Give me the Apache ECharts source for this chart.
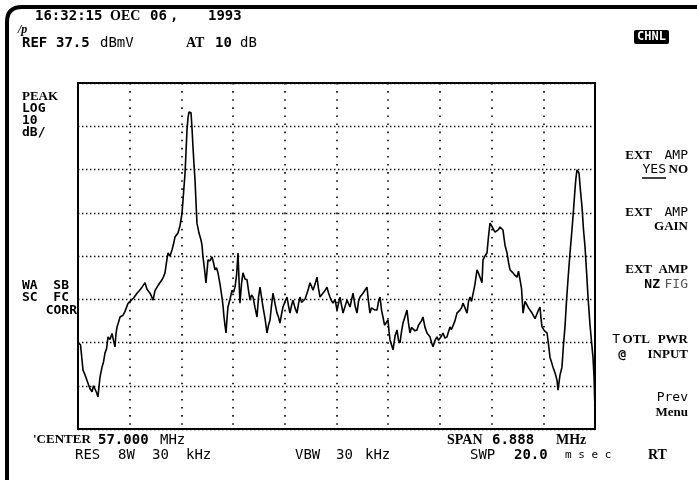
<!DOCTYPE html><html><head><meta charset="utf-8"><script src="https://cdn.jsdelivr.net/npm/echarts@6/dist/echarts.min.js"></script><style>body{margin:0;background:#fff}#c{width:697px;height:482px}</style></head><body><div id="c"></div><script>
// Spectrum analyzer trace: frequency (MHz) and level (dBmV)
var CENTER_MHZ = 57.000;
var SPAN_MHZ = 6.888;
var REF_DBMV = 37.5;
var DB_PER_DIV = 10;
var freqMHz = [53.556,53.589,53.623,53.650,53.689,53.716,53.743,53.762,53.782,53.802,53.822,53.849,53.876,53.896,53.916,53.936,53.956,53.982,54.009,54.029,54.049,54.062,54.076,54.096,54.116,54.136,54.156,54.182,54.222,54.249,54.275,54.302,54.342,54.369,54.409,54.429,54.449,54.475,54.515,54.535,54.555,54.582,54.609,54.642,54.675,54.695,54.715,54.735,54.755,54.782,54.808,54.828,54.848,54.868,54.888,54.915,54.942,54.962,54.982,54.995,55.008,55.022,55.035,55.048,55.062,55.075,55.088,55.102,55.115,55.128,55.141,55.168,55.195,55.208,55.221,55.241,55.261,55.275,55.288,55.315,55.341,55.361,55.381,55.401,55.421,55.448,55.474,55.488,55.501,55.514,55.528,55.541,55.554,55.581,55.608,55.628,55.648,55.668,55.688,55.701,55.714,55.734,55.754,55.781,55.808,55.828,55.848,55.868,55.888,55.915,55.941,55.961,55.981,56.001,56.021,56.048,56.074,56.094,56.114,56.134,56.154,56.181,56.207,56.227,56.247,56.267,56.287,56.314,56.341,56.360,56.380,56.400,56.420,56.447,56.474,56.494,56.514,56.534,56.554,56.580,56.607,56.627,56.647,56.667,56.687,56.714,56.740,56.760,56.780,56.800,56.820,56.847,56.873,56.893,56.913,56.933,56.953,56.980,57.007,57.047,57.087,57.140,57.180,57.220,57.247,57.273,57.293,57.313,57.353,57.406,57.426,57.446,57.466,57.486,57.513,57.540,57.560,57.580,57.600,57.619,57.640,57.659,57.686,57.700,57.713,57.733,57.753,57.780,57.806,57.826,57.846,57.866,57.886,57.913,57.939,57.959,57.979,57.999,58.019,58.045,58.072,58.092,58.112,58.132,58.152,58.179,58.206,58.226,58.246,58.266,58.286,58.312,58.339,58.359,58.379,58.399,58.419,58.445,58.472,58.492,58.512,58.532,58.552,58.578,58.605,58.625,58.645,58.665,58.685,58.712,58.739,58.759,58.779,58.799,58.819,58.845,58.872,58.892,58.912,58.938,58.952,58.978,59.005,59.025,59.045,59.065,59.085,59.112,59.138,59.158,59.178,59.198,59.218,59.245,59.272,59.292,59.312,59.332,59.352,59.378,59.405,59.425,59.445,59.465,59.485,59.512,59.538,59.558,59.578,59.598,59.618,59.645,59.671,59.691,59.711,59.725,59.738,59.771,59.805,59.825,59.844,59.864,59.884,59.911,59.938,59.951,59.978,60.004,60.024,60.044,60.064,60.084,60.110,60.137,60.157,60.177,60.190,60.204,60.218,60.231,60.251,60.271,60.291,60.311,60.331,60.351,60.378,60.404,60.417,60.430,60.444];
var levelDbmV = [-22.6,-23.0,-28.9,-30.0,-31.9,-33.2,-33.9,-32.5,-32.7,-34.0,-35.1,-30.5,-28.2,-27.0,-24.9,-24.0,-21.2,-21.8,-20.4,-22.0,-23.5,-20.5,-18.9,-17.8,-16.6,-16.9,-16.2,-15.3,-13.5,-13.0,-12.7,-12.1,-11.1,-10.6,-9.7,-9.9,-8.7,-10.2,-11.1,-11.8,-12.7,-10.5,-9.7,-8.8,-8.0,-7.3,-6.4,-4.0,-1.8,-2.5,-1.1,0.2,1.9,2.2,2.8,4.5,7.4,12.0,16.7,21.5,26.6,29.5,30.8,31.2,30.6,27.0,22.7,18.5,15.1,10.0,5.1,2.8,1.2,0.0,-2.7,-5.5,-8.7,-6.0,-3.4,-3.6,-2.7,-4.0,-5.7,-5.2,-6.4,-9.0,-12.0,-14.0,-16.6,-18.5,-20.3,-17.0,-14.3,-12.5,-10.4,-10.9,-9.7,-7.0,-1.8,-8.0,-13.4,-9.0,-6.4,-7.8,-8.0,-10.5,-12.7,-11.5,-12.0,-14.5,-16.6,-12.0,-9.7,-12.0,-14.3,-17.0,-20.3,-18.5,-17.3,-14.0,-11.1,-13.5,-15.7,-16.6,-18.0,-16.0,-14.3,-13.0,-12.0,-14.0,-15.7,-14.0,-12.7,-14.5,-15.7,-13.5,-12.0,-13.2,-13.4,-12.5,-11.1,-10.0,-8.7,-9.5,-10.4,-9.0,-7.4,-10.0,-12.0,-11.5,-11.1,-10.5,-9.7,-11.0,-12.0,-12.8,-13.4,-12.5,-15.0,-12.0,-15.7,-12.7,-14.3,-11.1,-14.0,-15.7,-13.0,-12.0,-11.1,-9.7,-13.0,-15.7,-14.5,-14.3,-15.0,-15.0,-13.0,-12.0,-15.0,-16.6,-18.5,-18.9,-17.3,-20.0,-21.9,-23.0,-24.2,-21.0,-19.6,-22.0,-22.6,-20.0,-18.0,-16.5,-15.0,-18.0,-20.3,-19.0,-18.9,-19.8,-19.6,-18.5,-18.0,-17.5,-16.6,-19.0,-20.3,-20.5,-21.2,-22.5,-23.5,-22.0,-21.2,-22.0,-21.9,-21.0,-20.3,-21.5,-21.2,-20.0,-18.9,-19.5,-19.6,-17.5,-15.7,-16.0,-15.0,-14.5,-13.4,-14.5,-15.7,-13.0,-12.0,-13.0,-13.4,-9.0,-5.7,-6.5,-7.4,-8.7,-3.4,-2.5,-1.8,2.0,5.1,4.5,4.2,3.0,2.8,3.6,4.2,3.8,3.5,0.0,-1.8,-4.0,-5.7,-6.0,-6.4,-7.0,-7.4,-6.0,-5.7,-10.0,-15.7,-13.0,-12.7,-14.5,-15.0,-15.5,-15.7,-17.0,-17.3,-15.0,-14.3,-17.0,-18.9,-19.8,-20.3,-23.0,-25.9,-27.0,-28.2,-29.5,-31.2,-33.5,-30.0,-28.2,-23.0,-18.9,-13.0,-8.0,-2.0,3.5,8.0,12.8,15.5,17.4,17.8,16.7,12.5,8.8,3.5,-0.4,-6.0,-12.0,-18.5,-23.5,-25.9,-30.0,-38.1];
var X_DIVS = 10, Y_DIVS = 8;

var trace = freqMHz.map(function(f,i){return [f, levelDbmV[i]];});
var fMin = CENTER_MHZ - SPAN_MHZ/2, fMax = CENTER_MHZ + SPAN_MHZ/2;
var lMax = REF_DBMV, lMin = REF_DBMV - DB_PER_DIV*Y_DIVS;

var MONO = '"DejaVu Sans Mono", monospace';
var SERIF = '"Liberation Serif", serif';
function t(x,y,s,o){o=o||{};return {type:'text',x:x,y:y,z:10,style:{text:s,fill:o.fill||'#000',font:(o.w||'bold')+' '+(o.size||14)+'px '+(o.serif?SERIF:MONO),textAlign:o.align||'left',textVerticalAlign:'middle'}};}

var g = [
  // screen frame
  {type:'line',z:5,shape:{x1:7,y1:480,x2:7,y2:22},style:{stroke:'#000',lineWidth:4}},
  {type:'bezierCurve',z:5,shape:{x1:7,y1:22,cpx1:7,cpy1:7,x2:22,y2:7},style:{stroke:'#000',lineWidth:4,fill:null}},
  {type:'line',z:5,shape:{x1:22,y1:7,x2:697,y2:7},style:{stroke:'#000',lineWidth:4}},
  // header
  t(35,16,'16:32:15'),t(110,16,'OEC',{serif:1,size:14}),t(150,16,'06'),t(170,16,','),t(208,16,'1993'),
  t(18,30,'/p',{serif:1,size:12,w:'italic bold'}),
  t(22,43,'REF'),t(56,43,'37.5'),t(100,43,'dBmV',{w:'normal'}),t(186,43,'AT',{serif:1,size:14}),t(215,43,'10'),t(240,43,'dB',{w:'normal'}),
  {type:'rect',z:9,shape:{x:634,y:30,width:35,height:14,r:2},style:{fill:'#000'}},
  t(651.5,37,'CHNL',{fill:'#fff',align:'center',size:12}),
  // left annotations
  t(22,97,'PEAK',{serif:1,size:13}),t(22,109,'LOG',{size:13}),t(22,121,'10',{size:13}),t(22,133,'dB/',{size:13}),
  t(22,286,'WA  SB',{size:13}),t(22,298,'SC  FC',{size:13}),t(77,311,'CORR',{align:'right',size:13}),
  // softkeys
  t(688,156,'AMP',{align:'right',w:'normal',size:13}),t(652,156,'EXT',{align:'right',serif:1,size:13}),
  t(688,170,'NO',{align:'right',serif:1,size:13}),t(666,170,'YES',{align:'right',w:'normal',size:13}),
  {type:'line',z:10,shape:{x1:642,y1:178,x2:666,y2:178},style:{stroke:'#000',lineWidth:1.5}},
  t(688,213,'AMP',{align:'right',w:'normal',size:13}),t(652,213,'EXT',{align:'right',serif:1,size:13}),
  t(688,227,'GAIN',{align:'right',serif:1,size:13}),
  t(688,270,'AMP',{align:'right',serif:1,size:13}),t(652,270,'EXT',{align:'right',serif:1,size:13}),
  t(688,285,'FIG',{align:'right',w:'normal',fill:'#555',size:13}),t(660,285,'NZ',{align:'right',size:13}),
  t(688,340,'PWR',{align:'right',serif:1,size:13}),t(650,340,'OTL',{align:'right',serif:1,size:13}),t(620,340,'T',{align:'right',w:'normal',size:13}),
  t(688,355,'INPUT',{align:'right',serif:1,size:13}),t(626,355,'@',{align:'right',size:13}),
  t(688,398,'Prev',{align:'right',w:'normal',size:13}),t(688,413,'Menu',{align:'right',serif:1,size:13}),
  // footer
  t(33,440,"'CENTER",{serif:1,size:13}),t(98,440,'57.000'),t(160,440,'MHz',{w:'normal'}),
  t(447,440,'SPAN',{serif:1,size:14}),t(492,440,'6.888'),t(556,440,'MHz',{serif:1,size:14}),
  t(75,455,'RES',{w:'normal'}),t(118,455,'8W',{w:'normal'}),t(152,455,'30',{w:'normal'}),t(186,455,'kHz',{w:'normal'}),
  t(295,455,'VBW',{w:'normal'}),t(336,455,'30',{w:'normal'}),t(365,455,'kHz',{w:'normal'}),
  t(470,455,'SWP',{w:'normal'}),t(514,455,'20.0'),t(565,455,'m s e c',{w:'normal',size:11}),t(648,455,'RT',{serif:1,size:14})
];

var chart = echarts.init(document.getElementById('c'));
chart.setOption({
  animation:false,
  backgroundColor:'#fff',
  grid:{left:78,right:102,top:83,bottom:53,show:true,borderColor:'#000',borderWidth:2,backgroundColor:'transparent'},
  xAxis:[
    {type:'value',min:fMin,max:fMax,show:false},
    {type:'value',min:0,max:X_DIVS,interval:1,position:'bottom',axisLine:{show:false},axisTick:{show:false},axisLabel:{show:false},
     splitLine:{show:true,lineStyle:{color:'#000',width:1.6,type:[1.6,6.5]}}}
  ],
  yAxis:[
    {type:'value',min:lMin,max:lMax,show:false},
    {type:'value',min:0,max:Y_DIVS,interval:1,axisLine:{show:false},axisTick:{show:false},axisLabel:{show:false},
     splitLine:{show:true,lineStyle:{color:'#000',width:1.4,type:[1.4,2.6]}}}
  ],
  series:[
    {type:'line',xAxisIndex:0,yAxisIndex:0,data:trace,showSymbol:false,lineStyle:{color:'#000',width:1.6},z:4}
  ],
  graphic:g
});
</script></body></html>
